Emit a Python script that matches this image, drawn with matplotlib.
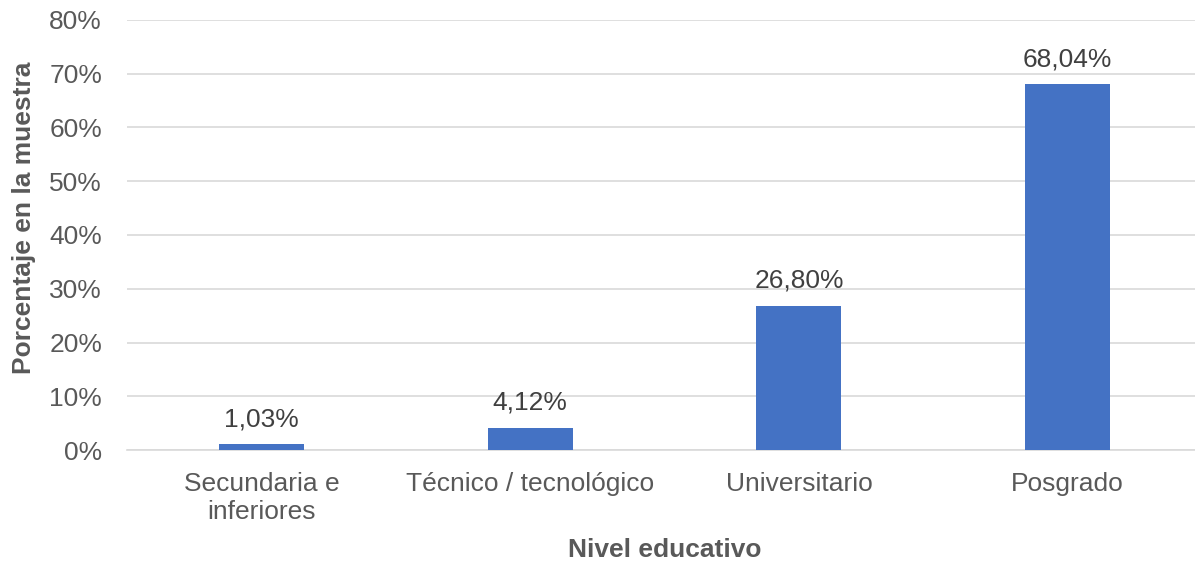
import matplotlib.pyplot as plt
import numpy as np

# Datos
categorias = ['Secundaria e\ninferiores', 'Técnico / tecnológico', 'Universitario', 'Posgrado']
porcentajes = [1.03, 4.12, 26.80, 68.04]
etiquetas = ['1,03%', '4,12%', '26,80%', '68,04%']
ticks_y = [0, 10, 20, 30, 40, 50, 60, 70, 80]

plt.rcParams['font.family'] = ['Liberation Sans', 'DejaVu Sans']
gris = '#595959'
fs = 19

fig = plt.figure(figsize=(11.95, 5.63), dpi=100)
ax = fig.add_axes([0.1063, 0.2007, 0.8996, 0.7638])

x = np.arange(len(categorias))
ax.bar(x, porcentajes, width=0.316, color='#4472C4', zorder=3)

for xi, v, lab in zip(x, porcentajes, etiquetas):
    ax.annotate(lab, (xi, v), xytext=(0, 13), textcoords='offset points',
                ha='center', va='baseline', fontsize=fs, color='#404040')

ax.set_xlim(-0.5, len(categorias) - 0.5)
ax.set_ylim(0, 80)
ax.set_yticks(ticks_y)
ax.set_yticklabels([f'{t}%' for t in ticks_y])
ax.set_xticks(x)
ax.set_xticklabels(categorias, linespacing=1.2)
ax.tick_params(axis='both', length=0, labelsize=fs, labelcolor=gris)
ax.tick_params(axis='y', pad=18)
ax.tick_params(axis='x', pad=16)

ax.grid(axis='y', color='#D9D9D9', linewidth=1.2, zorder=0)
for s in ['top', 'right', 'left']:
    ax.spines[s].set_visible(False)
ax.spines['bottom'].set_color('#D9D9D9')
ax.spines['bottom'].set_linewidth(1.2)

ax.set_xlabel('Nivel educativo', fontsize=fs, fontweight='bold', color=gris, labelpad=10)
ax.set_ylabel('Porcentaje en la muestra', fontsize=fs, fontweight='bold', color=gris)
ax.yaxis.set_label_coords(-0.0847, 0.5395)

fig.savefig('out.png', dpi=100)
